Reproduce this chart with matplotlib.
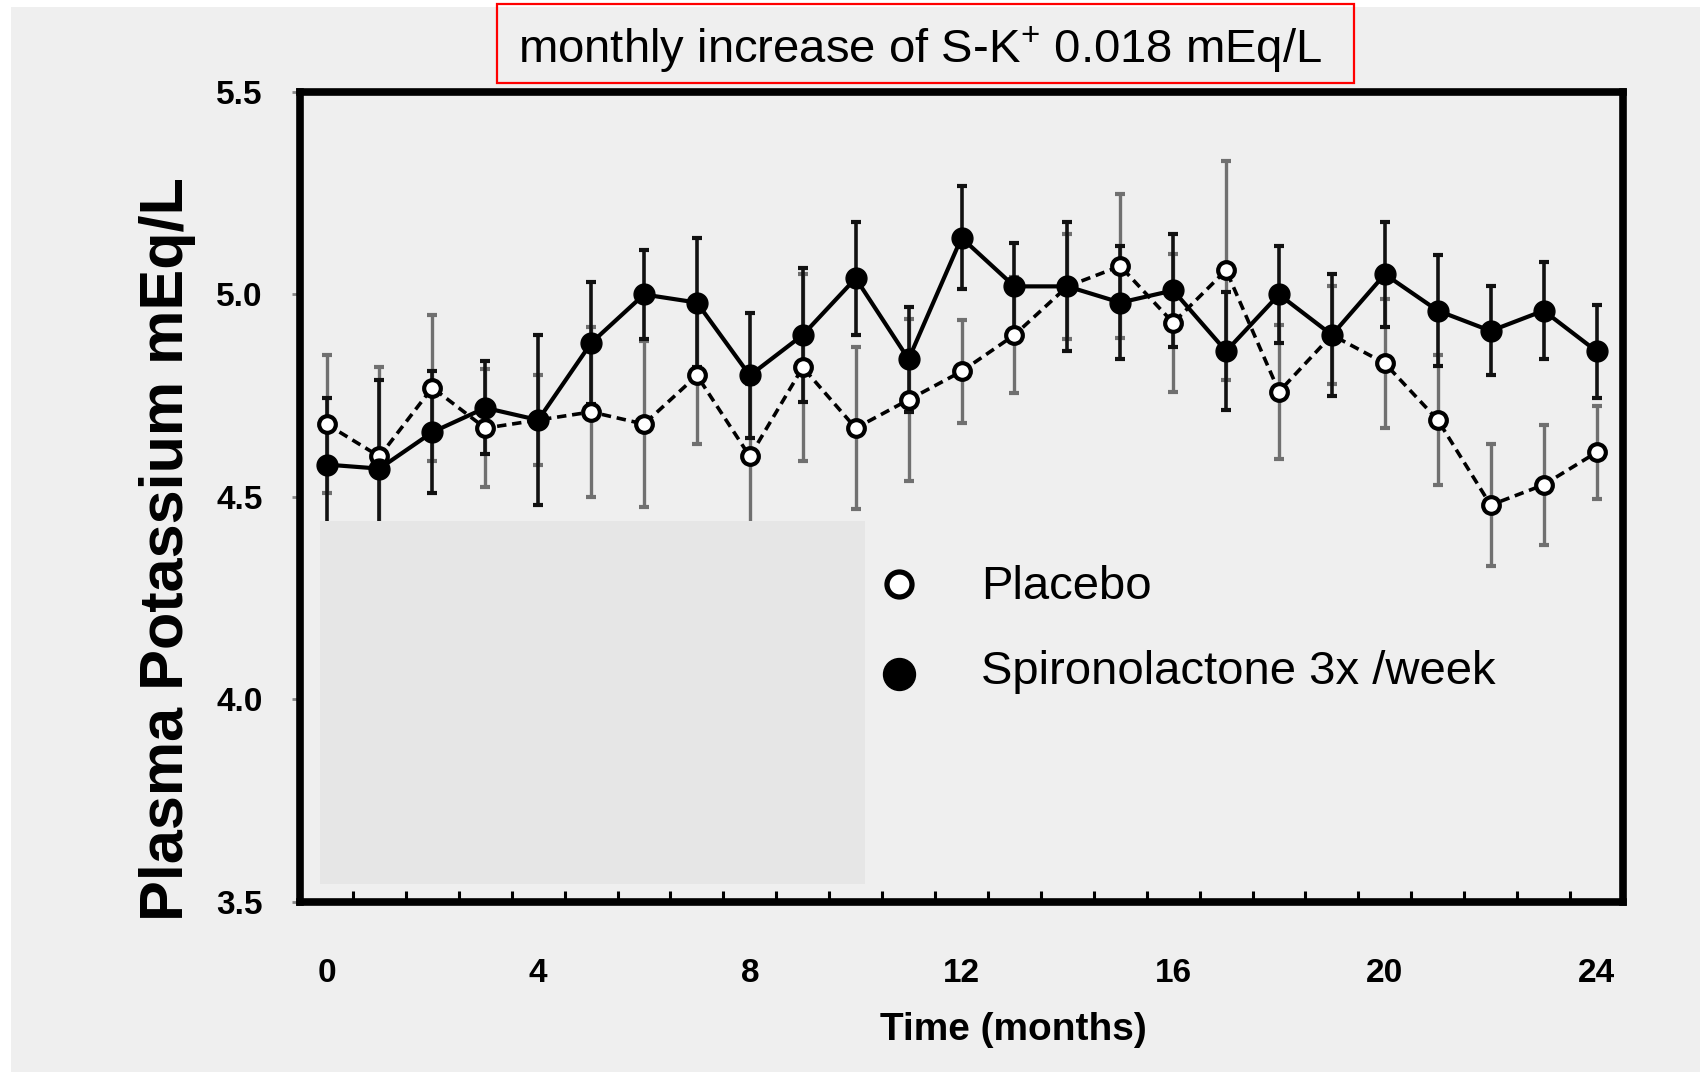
import matplotlib
matplotlib.use('Agg')
import matplotlib.pyplot as plt
from matplotlib import font_manager
from matplotlib.patches import Rectangle

# values (plasma K+, mEq/L, mean and error bar half-length)
months = list(range(25))
placebo = [4.68, 4.60, 4.77, 4.67, 4.69, 4.71, 4.68, 4.80, 4.60, 4.82, 4.67, 4.74, 4.81,
           4.90, 5.02, 5.07, 4.93, 5.06, 4.76, 4.90, 4.83, 4.69, 4.48, 4.53, 4.61]
placebo_err = [0.17, 0.22, 0.18, 0.145, 0.11, 0.21, 0.205, 0.17, 0.18, 0.23, 0.20, 0.20, 0.127,
               0.144, 0.13, 0.177, 0.17, 0.27, 0.165, 0.12, 0.16, 0.16, 0.15, 0.148, 0.115]
spiro = [4.58, 4.57, 4.66, 4.72, 4.69, 4.88, 5.00, 4.98, 4.80, 4.90, 5.04, 4.84, 5.14,
         5.02, 5.02, 4.98, 5.01, 4.86, 5.00, 4.90, 5.05, 4.96, 4.91, 4.96, 4.86]
spiro_err = [0.165, 0.22, 0.15, 0.115, 0.21, 0.15, 0.11, 0.16, 0.155, 0.165, 0.14, 0.13, 0.127,
             0.107, 0.16, 0.14, 0.14, 0.145, 0.12, 0.15, 0.13, 0.137, 0.11, 0.12, 0.115]
xtick_labels = [0, 4, 8, 12, 16, 20, 24]
ytick_labels = [3.5, 4.0, 4.5, 5.0, 5.5]

names = {f.name for f in font_manager.fontManager.ttflist}
plain = 'Liberation Sans' if 'Liberation Sans' in names else 'DejaVu Sans'

plt.rcParams['mathtext.fontset'] = 'custom'
plt.rcParams['mathtext.rm'] = plain

fig = plt.figure(figsize=(17, 10.72), dpi=100, facecolor='white')
fig.patches.append(Rectangle((0.0065, 0), 0.9935, 0.9935, transform=fig.transFigure,
                             facecolor='#efefef', edgecolor='none', zorder=-5))

ax = fig.add_axes([0.1765, 0.1586, 0.7782, 0.7556])
ax.set_facecolor('#efefef')

ax.errorbar(months, placebo, yerr=placebo_err, fmt='none', ecolor='#707070',
            elinewidth=2.4, capsize=3.5, capthick=3, zorder=2)
ax.errorbar(months, spiro, yerr=spiro_err, fmt='none', ecolor='#111111',
            elinewidth=2.6, capsize=3.5, capthick=3, zorder=2)
ax.plot(months, placebo, color='black', lw=2.6, ls=(0, (2.6, 1.6)), marker='o', ms=12,
        mfc='white', mec='black', mew=3, zorder=3)
ax.plot(months, spiro, color='black', lw=3, marker='o', ms=15,
        mfc='black', mec='black', zorder=4)

# light grey patch covering lower left of the plot
ax.add_patch(Rectangle((0.0151, 0.0222), 0.412, 0.448, transform=ax.transAxes,
                       facecolor='#e6e6e6', edgecolor='none', zorder=5))

ax.set_xlim(-0.5, 24.5)
ax.set_ylim(3.5, 5.5)
for s in ax.spines.values():
    s.set_linewidth(5.5)
    s.set_color('black')

ax.set_xticks(xtick_labels)
ax.set_xticklabels([str(v) for v in xtick_labels], fontfamily=plain,
                   fontweight='bold', fontsize=24)
ax.set_xticks([m + 0.5 for m in range(24)], minor=True)
ax.tick_params(axis='x', which='major', length=0, pad=40)
ax.tick_params(axis='x', which='minor', direction='in', length=8, width=2.2, color='black')
ax.set_yticks(ytick_labels)
ax.set_yticklabels(['%.1f' % v for v in ytick_labels], fontfamily=plain,
                   fontweight='bold', fontsize=24)
ax.tick_params(axis='y', direction='out', length=6, width=2, color='#888888', pad=21)

# legend
ax.plot([0.4528], [0.3926], marker='o', ms=18, mfc='white', mec='black', mew=3.8,
        transform=ax.transAxes, clip_on=False, zorder=6)
ax.plot([0.4528], [0.2815], marker='o', ms=23, mfc='black', mec='black',
        transform=ax.transAxes, clip_on=False, zorder=6)
ax.text(0.5147, 0.3886, 'Placebo', transform=ax.transAxes, fontfamily=plain,
        fontsize=34, va='center', ha='left', zorder=6)
ax.text(0.5147, 0.2837, 'Spironolactone 3x /week', transform=ax.transAxes,
        fontfamily=plain, fontsize=34, va='center', ha='left', zorder=6)

fig.text(0.0988, 0.4879, 'Plasma Potassium mEq/L', rotation=90, ha='center', va='center',
         fontfamily=plain, fontweight='bold', fontsize=44)
fig.text(0.596, 0.0392, 'Time (months)', ha='center', va='center',
         fontfamily=plain, fontweight='bold', fontsize=28)

# boxed heading
fig.patches.append(Rectangle((0.2924, 0.9226), 0.5041, 0.0737, transform=fig.transFigure,
                             facecolor='none', edgecolor='#ff0000', lw=1.6, zorder=10))
fig.text(0.5412, 0.954, r'monthly increase of S-K$^{+}$ 0.018 mEq/L', ha='center',
         va='center', fontfamily=plain, fontsize=34)

fig.savefig('out.png', dpi=100, facecolor=fig.get_facecolor())
